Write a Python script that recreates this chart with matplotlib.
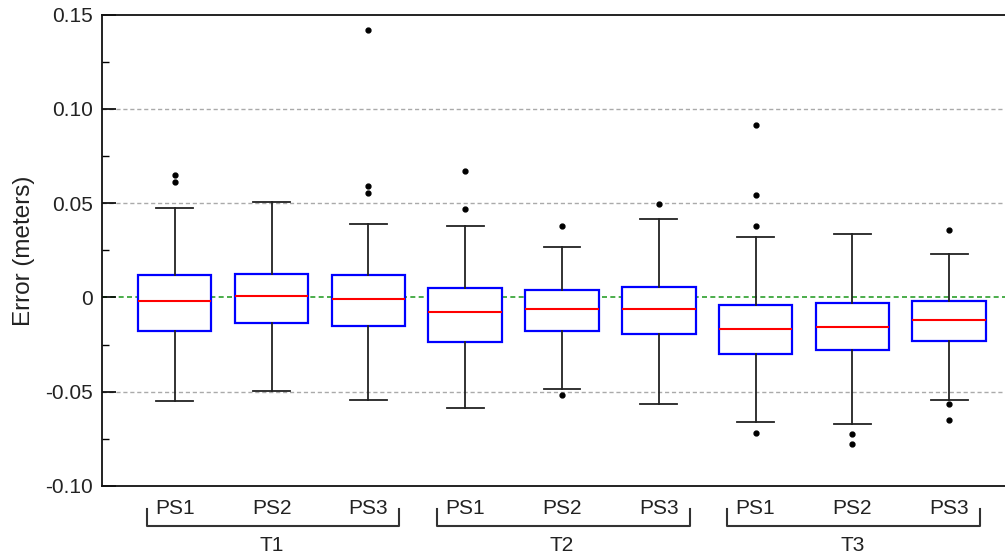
import matplotlib
matplotlib.use("Agg")
import matplotlib.pyplot as plt
import matplotlib.transforms as mtransforms

plt.rcParams['font.family'] = ['Liberation Sans', 'DejaVu Sans']

# box statistics, order T1 PS1..PS3, T2 PS1..PS3, T3 PS1..PS3
labels = ['PS1', 'PS2', 'PS3'] * 3
groups = ['T1', 'T2', 'T3']
medians = [-0.0020, 0.0008, -0.0009, -0.0078, -0.0061, -0.0059, -0.0165, -0.0156, -0.0119]
q1 = [-0.0179, -0.0136, -0.0151, -0.0234, -0.0177, -0.0195, -0.0301, -0.0280, -0.0230]
q3 = [0.0118, 0.0127, 0.0118, 0.0049, 0.0037, 0.0056, -0.0041, -0.0030, -0.0018]
whislo = [-0.0550, -0.0494, -0.0544, -0.0584, -0.0485, -0.0563, -0.0662, -0.0671, -0.0544]
whishi = [0.0476, 0.0506, 0.0391, 0.0378, 0.0270, 0.0417, 0.0320, 0.0338, 0.0233]
fliers = [
    [0.0650, 0.0611],
    [],
    [0.142, 0.0592, 0.0555],
    [0.0670, 0.0467],
    [0.0380, -0.0515],
    [0.0495],
    [0.0915, 0.0543, 0.0378, -0.0719],
    [-0.0726, -0.0775],
    [0.0359, -0.0563, -0.0650],
]

yticks = [-0.10, -0.05, 0, 0.05, 0.10, 0.15]
yticklabels = ['-0.10', '-0.05', '0', '0.05', '0.10', '0.15']

stats = []
for i in range(len(labels)):
    stats.append({'med': medians[i], 'q1': q1[i], 'q3': q3[i],
                  'whislo': whislo[i], 'whishi': whishi[i],
                  'fliers': fliers[i], 'label': labels[i]})

fig = plt.figure(figsize=(10.05, 5.57), dpi=100)
ax = fig.add_axes([0.1012, 0.1275, 0.8988, 0.8461])

# grid lines
for t in yticks[1:-1]:
    if t == 0:
        ax.axhline(t, color='#2ca02c', lw=1.2, ls=(0, (3, 2)), zorder=1)
    else:
        ax.axhline(t, color='#aaaaaa', lw=1.0, ls=(0, (3, 2)), zorder=1)

positions = list(range(1, len(labels) + 1))
ax.bxp(stats, positions=positions, widths=0.76, patch_artist=True,
       capwidths=0.38, zorder=3,
       boxprops=dict(facecolor='white', edgecolor='#0000ff', lw=1.6),
       medianprops=dict(color='#ff0000', lw=1.5),
       whiskerprops=dict(color='#222222', lw=1.3),
       capprops=dict(color='#222222', lw=1.3),
       flierprops=dict(marker='o', markerfacecolor='black', markeredgecolor='black',
                       markersize=3.5))

ax.set_xlim(0.246, 9.577)
ax.set_ylim(-0.10, 0.15)
ax.set_yticks(yticks)
ax.set_yticklabels(yticklabels)
ax.set_yticks([-0.075, -0.025, 0.025, 0.075, 0.125], minor=True)
ax.tick_params(axis='y', which='major', direction='in', length=10, width=1.2,
               pad=6, labelsize=15, labelcolor='#222222')
ax.tick_params(axis='y', which='minor', direction='in', length=5, width=1.0)
ax.set_xticks(positions)
ax.set_xticklabels(labels)
ax.tick_params(axis='x', length=0, pad=9.5, labelsize=15, labelcolor='#222222')

ax.spines['right'].set_visible(False)
for s in ['left', 'bottom', 'top']:
    ax.spines[s].set_linewidth(1.3)
    ax.spines[s].set_color('#111111')

ax.set_ylabel('Error (meters)', fontsize=17.5, color='#222222', labelpad=8)

# group brackets under the tick labels
trans = mtransforms.blended_transform_factory(ax.transData, ax.transAxes)
for g, name in enumerate(groups):
    x0 = positions[3 * g] - 0.29
    x1 = positions[3 * g + 2] + 0.32
    ax.plot([x0, x0, x1, x1], [-0.049, -0.084, -0.084, -0.049], transform=trans,
            color='#333333', lw=1.5, clip_on=False)
    ax.text(positions[3 * g + 1], -0.127, name, transform=trans, ha='center',
            va='center', fontsize=15, color='#222222')

fig.savefig('out.png', dpi=100)
